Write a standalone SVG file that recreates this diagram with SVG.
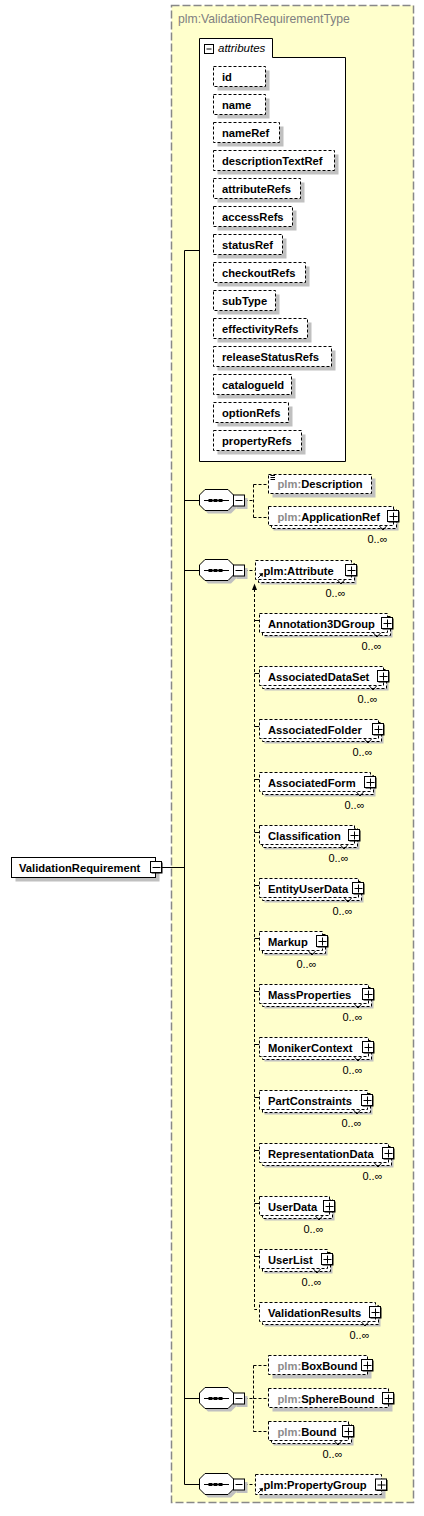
<svg xmlns="http://www.w3.org/2000/svg" xmlns:xlink="http://www.w3.org/1999/xlink" width="424" height="1516" viewBox="0 0 424 1516">
<defs>
<style>
.t{font-family:"Liberation Sans",Arial,sans-serif;font-size:11.2px;font-weight:bold;fill:#000}
.g{fill:#8c8c8c}
.m{font-family:"Liberation Sans",Arial,sans-serif;font-size:11px;fill:#000}
.box{fill:#fff;stroke:#000;stroke-width:1;stroke-dasharray:3,2}
.sol{fill:#fff;stroke:#000;stroke-width:1}
.sh{fill:#c0c0c0}
.ln{stroke:#000;stroke-width:1;fill:none}
.dl{stroke:#000;stroke-width:1;fill:none;stroke-dasharray:3,2}
</style>
<g id="plus">
<rect x="-4.5" y="-4.5" width="11" height="11" fill="#000"/>
<rect x="-5.5" y="-5.5" width="11" height="11" class="sol"/>
<path d="M-3.5,0.5H4.5M0.5,-3.5V4.5" class="ln"/>
</g>
<g id="minus">
<rect x="-4.5" y="-4.5" width="11" height="11" fill="#000"/>
<rect x="-5.5" y="-5.5" width="11" height="11" class="sol"/>
<path d="M-3.5,0.5H4.5" class="ln"/>
</g>
<g id="seq">
<polygon points="208,-7.5 231,-7.5 236.5,-2 236.5,8 231,13.5 208,13.5 202.5,8 202.5,-2" class="sh"/>
<polygon points="205,-10.5 228,-10.5 233.5,-5 233.5,5 228,10.5 205,10.5 199.5,5 199.5,-5" class="sol"/>
<path d="M204,0.5H229" class="ln"/>
<rect x="208.5" y="-1" width="4" height="3" fill="#000"/>
<rect x="213.5" y="-1" width="4" height="3" fill="#000"/>
<rect x="218.5" y="-1" width="4" height="3" fill="#000"/>
<rect x="236.5" y="-2" width="11" height="11" class="sh"/>
<rect x="233.5" y="-5" width="11" height="11" class="sol"/>
<path d="M235.5,0.5H242.5" class="ln"/>
</g>
<g id="ref">
<path d="M1.5,5.5L5,2" class="ln"/>
<polygon points="6.5,0.5 2.5,1 6,4.5" fill="#000"/>
</g>
</defs>

<g id="type-box">
<rect x="171.5" y="5.5" width="242" height="1497" fill="#ffffcc" stroke="#888" stroke-width="1.5" stroke-dasharray="8,3"/>
<text x="178" y="23" font-family="'Liberation Sans',Arial,sans-serif" font-size="12.2px" fill="#808080">plm:ValidationRequirementType</text>
</g>

<g id="connectors">
<path d="M161.5,867.5H184.5M184.5,250.5V1484.5M184.5,250.5H199.5M184.5,500.5H199.5M184.5,570.5H199.5M184.5,1398.5H199.5M184.5,1484.5H199.5" class="ln"/>
<path d="M244.5,500.5H253.5M253.5,484.5V517.5M253.5,484.5H268.5M253.5,517.5H268.5" class="dl"/>
<path d="M244.5,570.5H255.5" class="dl"/>
<path d="M254.5,589V1309.5H259.5" class="dl"/>
<path d="M254.5,620.5H259.5M254.5,673.5H259.5M254.5,726.5H259.5M254.5,779.5H259.5M254.5,832.5H259.5M254.5,885.5H259.5M254.5,938.5H259.5M254.5,991.5H259.5M254.5,1044.5H259.5M254.5,1097.5H259.5M254.5,1150.5H259.5M254.5,1203.5H259.5M254.5,1256.5H259.5" class="ln"/>
<polygon points="254.5,583.5 252,590 257,590" fill="#000"/>
<path d="M244.5,1398.5H253.5M253.5,1365.5V1431.5M253.5,1365.5H268.5M253.5,1398.5H268.5M253.5,1431.5H268.5" class="dl"/>
<path d="M244.5,1484.5H255.5" class="dl"/>
</g>

<g id="ValidationRequirement">
<rect x="15.5" y="861.5" width="144" height="20" class="sh"/>
<rect x="11.5" y="857.5" width="144" height="20" class="sol"/>
<text x="19" y="871.5" class="t">ValidationRequirement</text>
<use href="#minus" x="156" y="867"/>
</g>

<g id="attributes">
<path d="M199.5,38.5H272.5V57.5H345.5V461.5H199.5Z" class="sol"/>
<rect x="204.5" y="44.5" width="9" height="9" class="sol"/>
<path d="M206.5,49H211.5" class="ln"/>
<text x="218" y="52" font-family="'Liberation Sans',Arial,sans-serif" font-size="11.5px" font-style="italic" fill="#000">attributes</text>
</g>

<g id="attr-id"><rect x="217.5" y="70.5" width="52" height="20" class="sh"/><rect x="213.5" y="66.5" width="52" height="20" class="box"/><text x="222" y="80.5" class="t">id</text></g>
<g id="attr-name"><rect x="217.5" y="98.5" width="52" height="20" class="sh"/><rect x="213.5" y="94.5" width="52" height="20" class="box"/><text x="222" y="108.5" class="t">name</text></g>
<g id="attr-nameRef"><rect x="217.5" y="126.5" width="66" height="20" class="sh"/><rect x="213.5" y="122.5" width="66" height="20" class="box"/><text x="222" y="136.5" class="t">nameRef</text></g>
<g id="attr-descriptionTextRef"><rect x="217.5" y="154.5" width="121" height="20" class="sh"/><rect x="213.5" y="150.5" width="121" height="20" class="box"/><text x="222" y="164.5" class="t">descriptionTextRef</text></g>
<g id="attr-attributeRefs"><rect x="217.5" y="182.5" width="87" height="20" class="sh"/><rect x="213.5" y="178.5" width="87" height="20" class="box"/><text x="222" y="192.5" class="t">attributeRefs</text></g>
<g id="attr-accessRefs"><rect x="217.5" y="210.5" width="79" height="20" class="sh"/><rect x="213.5" y="206.5" width="79" height="20" class="box"/><text x="222" y="220.5" class="t">accessRefs</text></g>
<g id="attr-statusRef"><rect x="217.5" y="238.5" width="69" height="20" class="sh"/><rect x="213.5" y="234.5" width="69" height="20" class="box"/><text x="222" y="248.5" class="t">statusRef</text></g>
<g id="attr-checkoutRefs"><rect x="217.5" y="266.5" width="92" height="20" class="sh"/><rect x="213.5" y="262.5" width="92" height="20" class="box"/><text x="222" y="276.5" class="t">checkoutRefs</text></g>
<g id="attr-subType"><rect x="217.5" y="294.5" width="62" height="20" class="sh"/><rect x="213.5" y="290.5" width="62" height="20" class="box"/><text x="222" y="304.5" class="t">subType</text></g>
<g id="attr-effectivityRefs"><rect x="217.5" y="322.5" width="94" height="20" class="sh"/><rect x="213.5" y="318.5" width="94" height="20" class="box"/><text x="222" y="332.5" class="t">effectivityRefs</text></g>
<g id="attr-releaseStatusRefs"><rect x="217.5" y="350.5" width="118" height="20" class="sh"/><rect x="213.5" y="346.5" width="118" height="20" class="box"/><text x="222" y="360.5" class="t">releaseStatusRefs</text></g>
<g id="attr-catalogueId"><rect x="217.5" y="378.5" width="78" height="20" class="sh"/><rect x="213.5" y="374.5" width="78" height="20" class="box"/><text x="222" y="388.5" class="t">catalogueId</text></g>
<g id="attr-optionRefs"><rect x="217.5" y="406.5" width="75" height="20" class="sh"/><rect x="213.5" y="402.5" width="75" height="20" class="box"/><text x="222" y="416.5" class="t">optionRefs</text></g>
<g id="attr-propertyRefs"><rect x="217.5" y="434.5" width="88" height="20" class="sh"/><rect x="213.5" y="430.5" width="88" height="20" class="box"/><text x="222" y="444.5" class="t">propertyRefs</text></g>

<g id="seq1"><use href="#seq" y="500"/></g>
<g id="seq2"><use href="#seq" y="570"/></g>
<g id="seq3"><use href="#seq" y="1398"/></g>
<g id="seq4"><use href="#seq" y="1484"/></g>

<g id="Description">
<rect x="272.5" y="478.5" width="103" height="19" class="sh"/>
<rect x="268.5" y="474.5" width="103" height="19" class="box"/>
<path d="M270.5,475.5H275M270.5,477.5H275M270.5,479.5H275" class="ln"/>
<text x="277.5" y="488" class="t"><tspan class="g">plm:</tspan>Description</text>
</g>

<g id="ApplicationRef" transform="translate(268.5,506.5)">
<rect x="5" y="5" width="125" height="19" class="sh"/>
<rect x="3" y="3" width="125" height="19" class="box"/>
<rect x="0" y="0" width="125" height="19" class="box"/>
<path d="M111,19.5L114.5,23.5L118,19.5" class="ln" stroke-width="0.8"/>
<text x="9" y="14" class="t"><tspan class="g">plm:</tspan>ApplicationRef</text>
<use href="#plus" x="124.5" y="9.5"/>
<text x="119" y="36.5" class="m" text-anchor="end">0..∞</text>
</g>

<g id="Attribute" transform="translate(255.5,560.5)">
<rect x="5" y="5" width="96" height="19" class="sh"/>
<rect x="3" y="3" width="96" height="19" class="box"/>
<rect x="0" y="0" width="96" height="19" class="box"/>
<path d="M82,19.5L85.5,23.5L89,19.5" class="ln" stroke-width="0.8"/>
<use href="#ref" x="1" y="12"/>
<text x="8" y="14" class="t">plm:Attribute</text>
<use href="#plus" x="95.5" y="9.5"/>
<text x="90" y="36.5" class="m" text-anchor="end">0..∞</text>
</g>

<g id="Annotation3DGroup" transform="translate(259.5,613.5)"><rect x="5" y="5" width="128" height="19" class="sh"/><rect x="3" y="3" width="128" height="19" class="box"/><rect width="128" height="19" class="box"/><path d="M114,19.5L117.5,23.5L121,19.5" class="ln" stroke-width="0.8"/><text x="8.5" y="14" class="t">Annotation3DGroup</text><use href="#plus" x="127.5" y="9.5"/><text x="122" y="36.5" class="m" text-anchor="end">0..∞</text></g>
<g id="AssociatedDataSet" transform="translate(259.5,666.5)"><rect x="5" y="5" width="124" height="19" class="sh"/><rect x="3" y="3" width="124" height="19" class="box"/><rect width="124" height="19" class="box"/><path d="M110,19.5L113.5,23.5L117,19.5" class="ln" stroke-width="0.8"/><text x="8.5" y="14" class="t">AssociatedDataSet</text><use href="#plus" x="123.5" y="9.5"/><text x="118" y="36.5" class="m" text-anchor="end">0..∞</text></g>
<g id="AssociatedFolder" transform="translate(259.5,719.5)"><rect x="5" y="5" width="119" height="19" class="sh"/><rect x="3" y="3" width="119" height="19" class="box"/><rect width="119" height="19" class="box"/><path d="M105,19.5L108.5,23.5L112,19.5" class="ln" stroke-width="0.8"/><text x="8.5" y="14" class="t">AssociatedFolder</text><use href="#plus" x="118.5" y="9.5"/><text x="113" y="36.5" class="m" text-anchor="end">0..∞</text></g>
<g id="AssociatedForm" transform="translate(259.5,772.5)"><rect x="5" y="5" width="111" height="19" class="sh"/><rect x="3" y="3" width="111" height="19" class="box"/><rect width="111" height="19" class="box"/><path d="M97,19.5L100.5,23.5L104,19.5" class="ln" stroke-width="0.8"/><text x="8.5" y="14" class="t">AssociatedForm</text><use href="#plus" x="110.5" y="9.5"/><text x="105" y="36.5" class="m" text-anchor="end">0..∞</text></g>
<g id="Classification" transform="translate(259.5,825.5)"><rect x="5" y="5" width="95" height="19" class="sh"/><rect x="3" y="3" width="95" height="19" class="box"/><rect width="95" height="19" class="box"/><path d="M81,19.5L84.5,23.5L88,19.5" class="ln" stroke-width="0.8"/><text x="8.5" y="14" class="t">Classification</text><use href="#plus" x="94.5" y="9.5"/><text x="89" y="36.5" class="m" text-anchor="end">0..∞</text></g>
<g id="EntityUserData" transform="translate(259.5,878.5)"><rect x="5" y="5" width="99" height="19" class="sh"/><rect x="3" y="3" width="99" height="19" class="box"/><rect width="99" height="19" class="box"/><path d="M85,19.5L88.5,23.5L92,19.5" class="ln" stroke-width="0.8"/><text x="8.5" y="14" class="t">EntityUserData</text><use href="#plus" x="98.5" y="9.5"/><text x="93" y="36.5" class="m" text-anchor="end">0..∞</text></g>
<g id="Markup" transform="translate(259.5,931.5)"><rect x="5" y="5" width="63" height="19" class="sh"/><rect x="3" y="3" width="63" height="19" class="box"/><rect width="63" height="19" class="box"/><path d="M49,19.5L52.5,23.5L56,19.5" class="ln" stroke-width="0.8"/><text x="8.5" y="14" class="t">Markup</text><use href="#plus" x="62.5" y="9.5"/><text x="57" y="36.5" class="m" text-anchor="end">0..∞</text></g>
<g id="MassProperties" transform="translate(259.5,984.5)"><rect x="5" y="5" width="109" height="19" class="sh"/><rect x="3" y="3" width="109" height="19" class="box"/><rect width="109" height="19" class="box"/><path d="M95,19.5L98.5,23.5L102,19.5" class="ln" stroke-width="0.8"/><text x="8.5" y="14" class="t">MassProperties</text><use href="#plus" x="108.5" y="9.5"/><text x="103" y="36.5" class="m" text-anchor="end">0..∞</text></g>
<g id="MonikerContext" transform="translate(259.5,1037.5)"><rect x="5" y="5" width="109" height="19" class="sh"/><rect x="3" y="3" width="109" height="19" class="box"/><rect width="109" height="19" class="box"/><path d="M95,19.5L98.5,23.5L102,19.5" class="ln" stroke-width="0.8"/><text x="8.5" y="14" class="t">MonikerContext</text><use href="#plus" x="108.5" y="9.5"/><text x="103" y="36.5" class="m" text-anchor="end">0..∞</text></g>
<g id="PartConstraints" transform="translate(259.5,1090.5)"><rect x="5" y="5" width="108" height="19" class="sh"/><rect x="3" y="3" width="108" height="19" class="box"/><rect width="108" height="19" class="box"/><path d="M94,19.5L97.5,23.5L101,19.5" class="ln" stroke-width="0.8"/><text x="8.5" y="14" class="t">PartConstraints</text><use href="#plus" x="107.5" y="9.5"/><text x="102" y="36.5" class="m" text-anchor="end">0..∞</text></g>
<g id="RepresentationData" transform="translate(259.5,1143.5)"><rect x="5" y="5" width="129" height="19" class="sh"/><rect x="3" y="3" width="129" height="19" class="box"/><rect width="129" height="19" class="box"/><path d="M115,19.5L118.5,23.5L122,19.5" class="ln" stroke-width="0.8"/><text x="8.5" y="14" class="t">RepresentationData</text><use href="#plus" x="128.5" y="9.5"/><text x="123" y="36.5" class="m" text-anchor="end">0..∞</text></g>
<g id="UserData" transform="translate(259.5,1196.5)"><rect x="5" y="5" width="70" height="19" class="sh"/><rect x="3" y="3" width="70" height="19" class="box"/><rect width="70" height="19" class="box"/><path d="M56,19.5L59.5,23.5L63,19.5" class="ln" stroke-width="0.8"/><text x="8.5" y="14" class="t">UserData</text><use href="#plus" x="69.5" y="9.5"/><text x="64" y="36.5" class="m" text-anchor="end">0..∞</text></g>
<g id="UserList" transform="translate(259.5,1249.5)"><rect x="5" y="5" width="68" height="19" class="sh"/><rect x="3" y="3" width="68" height="19" class="box"/><rect width="68" height="19" class="box"/><path d="M54,19.5L57.5,23.5L61,19.5" class="ln" stroke-width="0.8"/><text x="8.5" y="14" class="t">UserList</text><use href="#plus" x="67.5" y="9.5"/><text x="62" y="36.5" class="m" text-anchor="end">0..∞</text></g>
<g id="ValidationResults" transform="translate(259.5,1302.5)"><rect x="5" y="5" width="116" height="19" class="sh"/><rect x="3" y="3" width="116" height="19" class="box"/><rect width="116" height="19" class="box"/><path d="M102,19.5L105.5,23.5L109,19.5" class="ln" stroke-width="0.8"/><text x="8.5" y="14" class="t">ValidationResults</text><use href="#plus" x="115.5" y="9.5"/><text x="110" y="36.5" class="m" text-anchor="end">0..∞</text></g>

<g id="BoxBound" transform="translate(268.5,1355.5)">
<rect x="4" y="4" width="99" height="19" class="sh"/>
<rect width="99" height="19" class="box"/>
<text x="9" y="14" class="t"><tspan class="g">plm:</tspan>BoxBound</text>
<use href="#plus" x="98.5" y="9.5"/>
</g>
<g id="SphereBound" transform="translate(268.5,1388.5)">
<rect x="4" y="4" width="120" height="19" class="sh"/>
<rect width="120" height="19" class="box"/>
<text x="9" y="14" class="t"><tspan class="g">plm:</tspan>SphereBound</text>
<use href="#plus" x="119.5" y="9.5"/>
</g>
<g id="Bound" transform="translate(268.5,1421.5)">
<rect x="5" y="5" width="80" height="19" class="sh"/>
<rect x="3" y="3" width="80" height="19" class="box"/>
<rect width="80" height="19" class="box"/>
<path d="M66,19.5L69.5,23.5L73,19.5" class="ln" stroke-width="0.8"/>
<text x="9" y="14" class="t"><tspan class="g">plm:</tspan>Bound</text>
<use href="#plus" x="79.5" y="9.5"/>
<text x="74" y="36.5" class="m" text-anchor="end">0..∞</text>
</g>

<g id="PropertyGroup" transform="translate(255.5,1474.5)">
<rect x="4" y="4" width="126" height="20" class="sh"/>
<rect width="126" height="20" class="box"/>
<use href="#ref" x="1" y="13"/>
<text x="8" y="14.5" class="t">plm:PropertyGroup</text>
<use href="#plus" x="125.5" y="10"/>
</g>
</svg>
